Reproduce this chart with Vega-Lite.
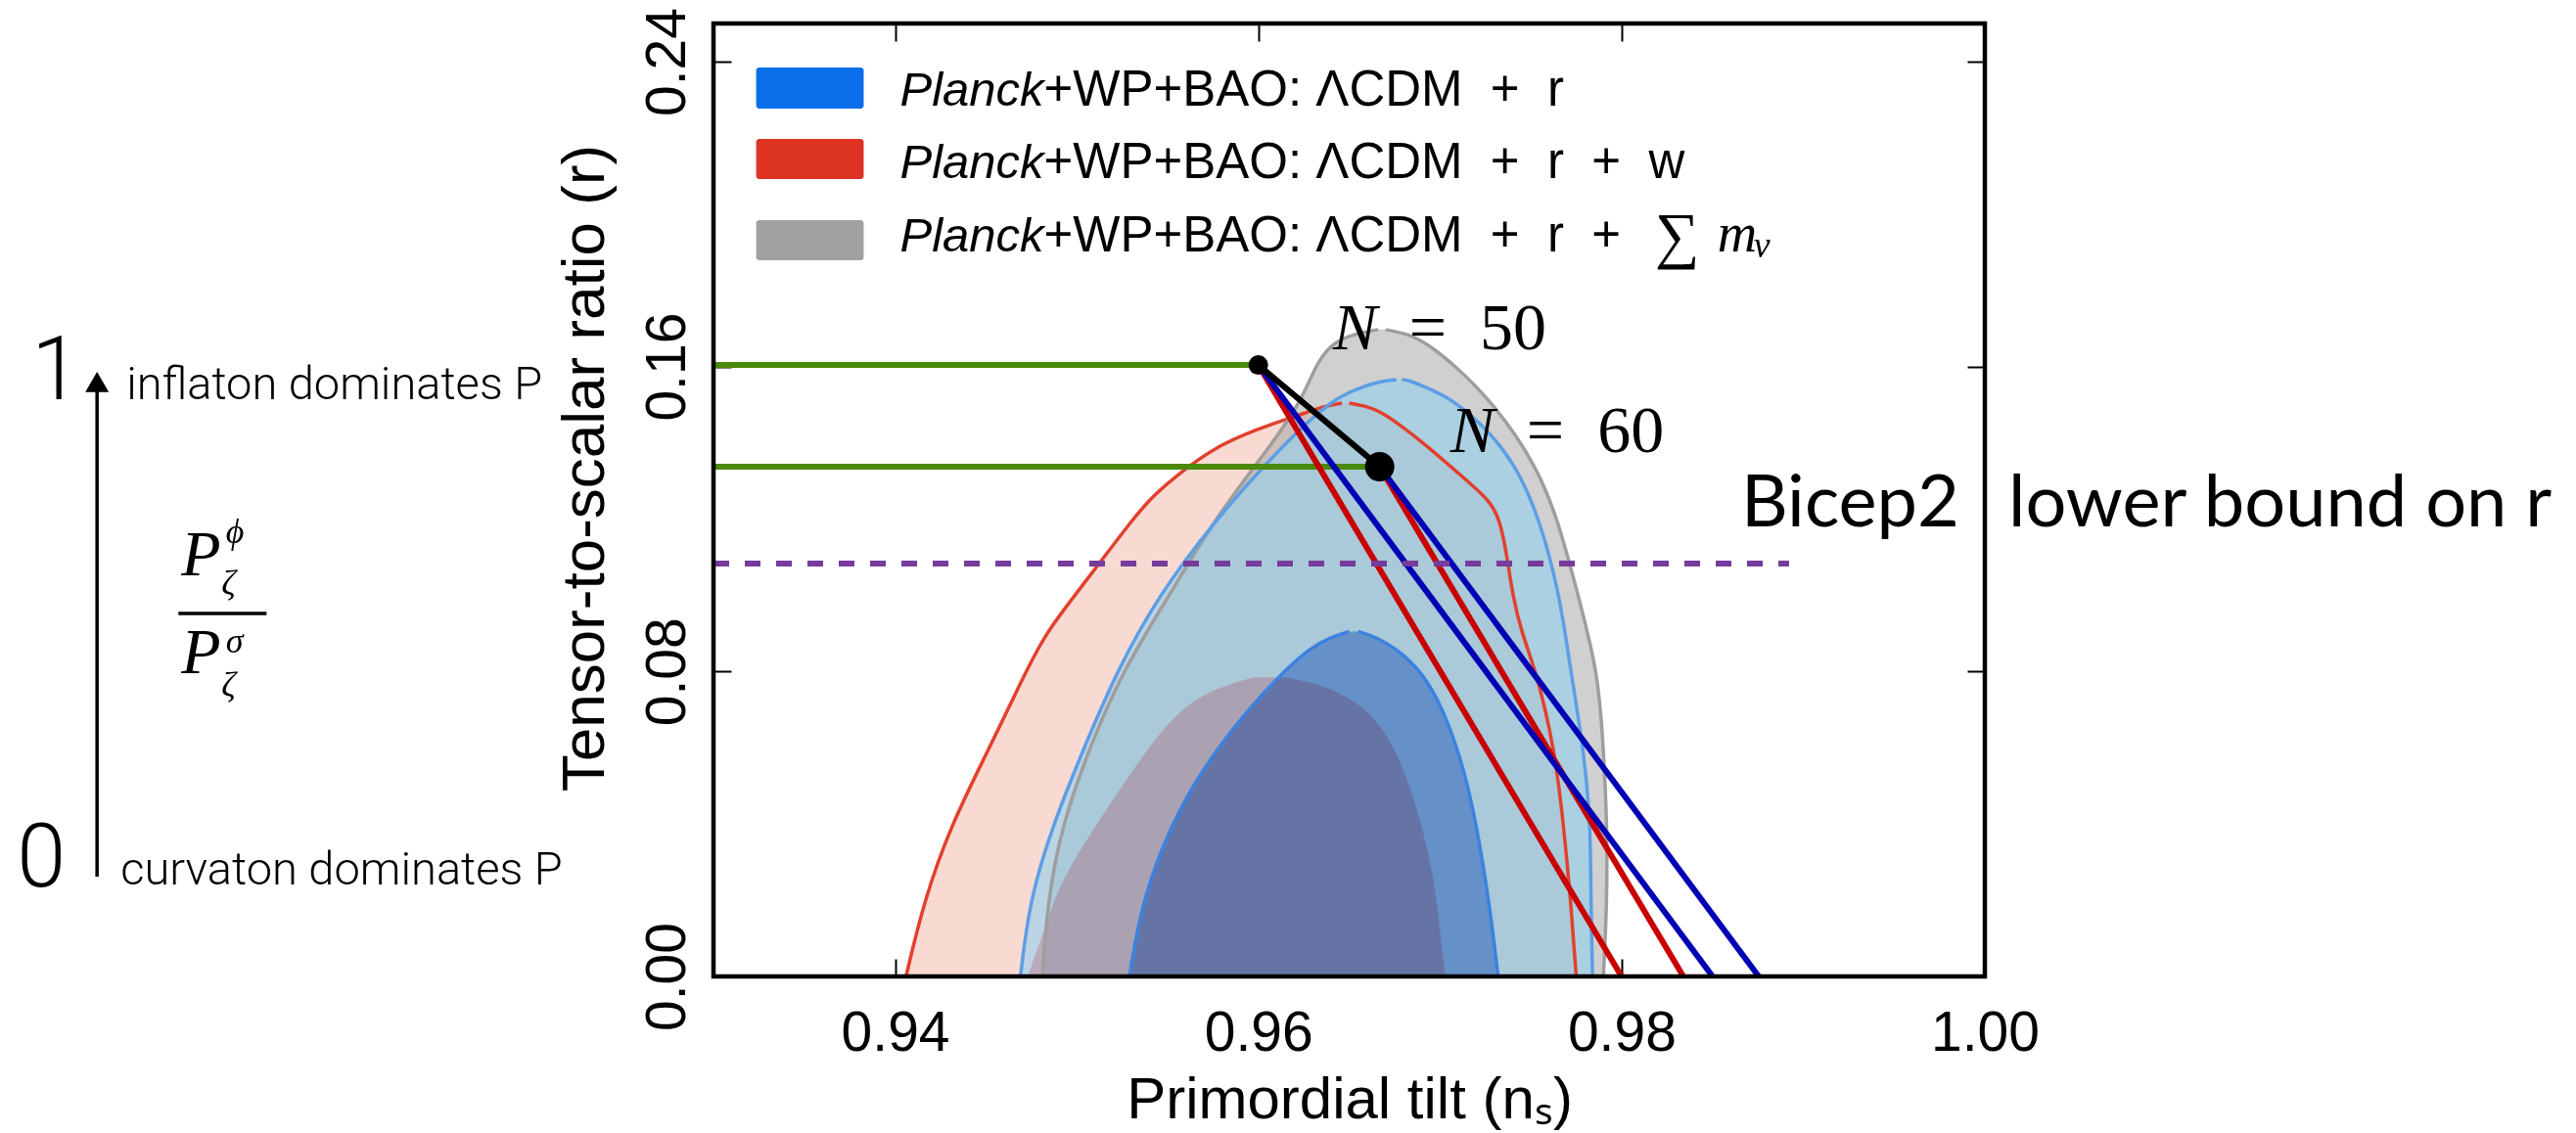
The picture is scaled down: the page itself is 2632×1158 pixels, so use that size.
{
  "$schema": "https://vega.github.io/schema/vega-lite/v6.json",
  "autosize": "none",
  "width": 1299,
  "height": 974,
  "padding": {"left": 729, "top": 24, "right": 604, "bottom": 160},
  "background": "white",
  "config": {
    "view": {"stroke": null},
    "axis": {
      "domain": false, "grid": false, "ticks": true, "tickColor": "black", "tickWidth": 2, "tickSize": -18,
      "labelColor": "black", "titleColor": "black", "labelFont": "Liberation Sans", "titleFont": "Liberation Sans",
      "titleFontWeight": "normal", "labelOverlap": false, "zindex": 1
    }
  },
  "resolve": {"axis": {"x": "independent", "y": "independent"}, "scale": {"color": "independent"}},
  "datasets": {
    "contours": [
      {"c": "red95", "y": 0, "xl": 0.9406, "xr": 0.9775},
      {"c": "red95", "y": 0.02, "xl": 0.9416, "xr": 0.9772},
      {"c": "red95", "y": 0.04, "xl": 0.9431, "xr": 0.9768},
      {"c": "red95", "y": 0.06, "xl": 0.9452, "xr": 0.9763},
      {"c": "red95", "y": 0.08, "xl": 0.9472, "xr": 0.9753},
      {"c": "red95", "y": 0.09, "xl": 0.9483, "xr": 0.9745},
      {"c": "red95", "y": 0.10, "xl": 0.9499, "xr": 0.9740},
      {"c": "red95", "y": 0.11, "xl": 0.9515, "xr": 0.9737},
      {"c": "red95", "y": 0.12, "xl": 0.9531, "xr": 0.9733},
      {"c": "red95", "y": 0.125, "xl": 0.9540, "xr": 0.9727},
      {"c": "red95", "y": 0.13, "xl": 0.9551, "xr": 0.9715},
      {"c": "red95", "y": 0.14, "xl": 0.9579, "xr": 0.9691},
      {"c": "red95", "y": 0.145, "xl": 0.9608, "xr": 0.9677},
      {"c": "red95", "y": 0.148, "xl": 0.9627, "xr": 0.9668},
      {"c": "red95", "y": 0.1497, "xl": 0.9637, "xr": 0.9659},
      {"c": "red95", "y": 0.1504, "xl": 0.9646, "xr": 0.9650},
      {"c": "gray95", "y": 0, "xl": 0.9481, "xr": 0.9790},
      {"c": "gray95", "y": 0.02, "xl": 0.9484, "xr": 0.9792},
      {"c": "gray95", "y": 0.04, "xl": 0.9492, "xr": 0.9792},
      {"c": "gray95", "y": 0.06, "xl": 0.9507, "xr": 0.9790},
      {"c": "gray95", "y": 0.08, "xl": 0.9525, "xr": 0.9787},
      {"c": "gray95", "y": 0.10, "xl": 0.9551, "xr": 0.9776},
      {"c": "gray95", "y": 0.12, "xl": 0.9576, "xr": 0.9765},
      {"c": "gray95", "y": 0.135, "xl": 0.9600, "xr": 0.9752},
      {"c": "gray95", "y": 0.15, "xl": 0.9623, "xr": 0.9730},
      {"c": "gray95", "y": 0.16, "xl": 0.9631, "xr": 0.9709},
      {"c": "gray95", "y": 0.166, "xl": 0.9640, "xr": 0.9693},
      {"c": "gray95", "y": 0.1685, "xl": 0.9652, "xr": 0.9683},
      {"c": "gray95", "y": 0.1697, "xl": 0.9666, "xr": 0.9670},
      {"c": "blue95", "y": 0, "xl": 0.9469, "xr": 0.9784},
      {"c": "blue95", "y": 0.02, "xl": 0.9474, "xr": 0.9783},
      {"c": "blue95", "y": 0.04, "xl": 0.9487, "xr": 0.9783},
      {"c": "blue95", "y": 0.06, "xl": 0.9504, "xr": 0.9779},
      {"c": "blue95", "y": 0.08, "xl": 0.9522, "xr": 0.9772},
      {"c": "blue95", "y": 0.10, "xl": 0.9545, "xr": 0.9766},
      {"c": "blue95", "y": 0.12, "xl": 0.9577, "xr": 0.9755},
      {"c": "blue95", "y": 0.135, "xl": 0.9605, "xr": 0.9741},
      {"c": "blue95", "y": 0.145, "xl": 0.9626, "xr": 0.9723},
      {"c": "blue95", "y": 0.152, "xl": 0.9643, "xr": 0.9705},
      {"c": "blue95", "y": 0.155, "xl": 0.9659, "xr": 0.9690},
      {"c": "blue95", "y": 0.1562, "xl": 0.9668, "xr": 0.9684},
      {"c": "blue95", "y": 0.1566, "xl": 0.9676, "xr": 0.9679},
      {"c": "blue68", "y": 0, "xl": 0.9529, "xr": 0.9732},
      {"c": "blue68", "y": 0.02, "xl": 0.9536, "xr": 0.9727},
      {"c": "blue68", "y": 0.04, "xl": 0.9552, "xr": 0.9720},
      {"c": "blue68", "y": 0.055, "xl": 0.9570, "xr": 0.9713},
      {"c": "blue68", "y": 0.07, "xl": 0.9594, "xr": 0.9702},
      {"c": "blue68", "y": 0.08, "xl": 0.9614, "xr": 0.9690},
      {"c": "blue68", "y": 0.086, "xl": 0.9628, "xr": 0.9676},
      {"c": "blue68", "y": 0.089, "xl": 0.9640, "xr": 0.9665},
      {"c": "blue68", "y": 0.0905, "xl": 0.9650, "xr": 0.9655},
      {"c": "red68", "y": 0, "xl": 0.9473, "xr": 0.9703},
      {"c": "red68", "y": 0.012, "xl": 0.9482, "xr": 0.9700},
      {"c": "red68", "y": 0.025, "xl": 0.9491, "xr": 0.9697},
      {"c": "red68", "y": 0.04, "xl": 0.9511, "xr": 0.9690},
      {"c": "red68", "y": 0.055, "xl": 0.9532, "xr": 0.9680},
      {"c": "red68", "y": 0.066, "xl": 0.9549, "xr": 0.9668},
      {"c": "red68", "y": 0.073, "xl": 0.9565, "xr": 0.9652},
      {"c": "red68", "y": 0.077, "xl": 0.9585, "xr": 0.9632},
      {"c": "red68", "y": 0.0785, "xl": 0.9598, "xr": 0.9614}
    ],
    "segs": [
      {"k": "green", "x1": 0.93, "y1": 0.1604, "x2": 0.96, "y2": 0.1604},
      {"k": "green", "x1": 0.93, "y1": 0.1337, "x2": 0.96668, "y2": 0.1337},
      {"k": "red", "x1": 0.96, "y1": 0.1604, "x2": 0.98, "y2": 0},
      {"k": "red", "x1": 0.96668, "y1": 0.1337, "x2": 0.9834, "y2": 0},
      {"k": "blue", "x1": 0.96, "y1": 0.1604, "x2": 0.98501, "y2": 0},
      {"k": "blue", "x1": 0.96668, "y1": 0.1337, "x2": 0.98755, "y2": 0},
      {"k": "black", "x1": 0.96, "y1": 0.1604, "x2": 0.96668, "y2": 0.1337},
      {"k": "bicep", "x1": 0.93, "y1": 0.1083, "x2": 0.98922, "y2": 0.1083},
      {"k": "frac", "x1": 0.90054, "y1": 0.09523, "x2": 0.90539, "y2": 0.09523},
      {"k": "shaft", "x1": 0.89606, "y1": 0.02618, "x2": 0.89606, "y2": 0.1535}
    ],
    "pts": [
      {"n": "50", "x": 0.96, "y": 0.1604},
      {"n": "60", "x": 0.96668, "y": 0.1337},
      {"n": "arrow", "x": 0.89606, "y": 0.15596}
    ],
    "boxes": [
      {"k": "blue", "x1": 0.93235, "x2": 0.93827, "y1": 0.22767, "y2": 0.23845},
      {"k": "red", "x1": 0.93235, "x2": 0.93827, "y1": 0.20919, "y2": 0.21971},
      {"k": "gray", "x1": 0.93235, "x2": 0.93827, "y1": 0.18789, "y2": 0.19841}
    ],
    "frame": [{"x1": 0.93, "x2": 1.0, "y1": 0, "y2": 0.25}],
    "texts": [
      {"g": "nit", "t": "N", "x": 0.9641, "y": 0.1645},
      {"g": "nit", "t": "N", "x": 0.97057, "y": 0.1376},
      {"g": "nrest", "t": "=\u00a0\u00a050", "x": 0.9683, "y": 0.1645},
      {"g": "nrest", "t": "=\u00a0\u00a060", "x": 0.97477, "y": 0.1376},
      {"g": "bicepL", "t": "Bicep2", "x": 0.9986, "y": 0.1181},
      {"g": "bicepR", "t": "lower bound on r", "x": 1.00129, "y": 0.1181},
      {"g": "legIt", "t": "Planck", "x": 0.94819, "y": 0.22844},
      {"g": "legIt", "t": "Planck", "x": 0.94819, "y": 0.20945},
      {"g": "legIt", "t": "Planck", "x": 0.94819, "y": 0.1902},
      {"g": "legRest", "t": "+WP+BAO: ΛCDM\u00a0\u00a0+\u00a0\u00a0r", "x": 0.94819, "y": 0.22844},
      {"g": "legRest", "t": "+WP+BAO: ΛCDM\u00a0\u00a0+\u00a0\u00a0r\u00a0\u00a0+\u00a0\u00a0w", "x": 0.94819, "y": 0.20945},
      {"g": "legRest", "t": "+WP+BAO: ΛCDM\u00a0\u00a0+\u00a0\u00a0r\u00a0\u00a0+", "x": 0.94819, "y": 0.1902},
      {"g": "sum", "t": "∑", "x": 0.98183, "y": 0.18891},
      {"g": "mit", "t": "m", "x": 0.98528, "y": 0.1902},
      {"g": "nu", "t": "ν", "x": 0.98727, "y": 0.18866},
      {"g": "big", "t": "1", "x": 0.89245, "y": 0.15144},
      {"g": "big", "t": "0", "x": 0.89164, "y": 0.02361},
      {"g": "dom", "t": "inflaton dominates P", "x": 0.89768, "y": 0.15144},
      {"g": "dom", "t": "curvaton dominates P", "x": 0.89736, "y": 0.02413},
      {"g": "fracP", "t": "P", "x": 0.9007, "y": 0.10524},
      {"g": "fracP", "t": "P", "x": 0.9007, "y": 0.07957},
      {"g": "fracS", "t": "ϕ", "x": 0.90315, "y": 0.11371},
      {"g": "fracS", "t": "σ", "x": 0.90315, "y": 0.08496},
      {"g": "fracS", "t": "ζ", "x": 0.90291, "y": 0.1001},
      {"g": "fracS", "t": "ζ", "x": 0.90291, "y": 0.07341}
    ]
  },
  "layer": [
    {
      "data": {"name": "contours"},
      "transform": [{"filter": {"field": "c", "equal": "red95"}}],
      "mark": {"type": "area", "orient": "horizontal", "interpolate": "basis", "color": "#f8dad2", "opacity": 1},
      "encoding": {
        "x": {"field": "xl", "type": "quantitative", "scale": {"domain": [0.93, 1.0], "nice": false, "zero": false},
          "axis": {"orient": "bottom", "values": [0.94, 0.96, 0.98, 1.0], "format": ".2f", "title": "Primordial tilt (nₛ)",
            "labelFontSize": 57, "labelPadding": 93, "labelBaseline": "alphabetic", "labelFlush": false,
            "titleFontSize": 60, "titleBaseline": "alphabetic", "titleY": 144}},
        "x2": {"field": "xr"},
        "y": {"field": "y", "type": "quantitative", "scale": {"domain": [0, 0.25], "nice": false, "zero": false},
          "axis": {"orient": "left", "values": [0, 0.08, 0.16, 0.24], "format": ".2f", "labelAngle": -90,
            "labelAlign": "center", "labelBaseline": "alphabetic", "labelPadding": 48, "labelFontSize": 57,
            "title": "Tensor-to-scalar ratio (r)", "titleFontSize": 62, "titleAngle": -90, "titleAlign": "center",
            "titleBaseline": "alphabetic", "titleX": -113, "titleY": 454}}
      }
    },
    {
      "data": {"name": "contours"},
      "transform": [{"filter": {"field": "c", "equal": "gray95"}}],
      "mark": {"type": "area", "orient": "horizontal", "interpolate": "basis", "color": "#a1a1a1", "opacity": 0.5},
      "encoding": {
        "x": {"field": "xl", "type": "quantitative", "axis": null},
        "x2": {"field": "xr"},
        "y": {"field": "y", "type": "quantitative", "axis": null}
      }
    },
    {
      "data": {"name": "contours"},
      "transform": [{"filter": {"field": "c", "equal": "blue95"}}],
      "mark": {"type": "area", "orient": "horizontal", "interpolate": "basis", "color": "#92d0ee", "opacity": 0.6},
      "encoding": {
        "x": {"field": "xl", "type": "quantitative", "axis": null},
        "x2": {"field": "xr"},
        "y": {"field": "y", "type": "quantitative", "axis": null}
      }
    },
    {
      "data": {"name": "contours"},
      "transform": [{"filter": {"field": "c", "equal": "blue68"}}],
      "mark": {"type": "area", "orient": "horizontal", "interpolate": "basis", "color": "#4978c1", "opacity": 0.7},
      "encoding": {
        "x": {"field": "xl", "type": "quantitative", "axis": null},
        "x2": {"field": "xr"},
        "y": {"field": "y", "type": "quantitative", "axis": null}
      }
    },
    {
      "data": {"name": "contours"},
      "transform": [{"filter": {"field": "c", "equal": "red68"}}],
      "mark": {"type": "area", "orient": "horizontal", "interpolate": "basis", "color": "#ffcdd2", "opacity": 1, "blend": "multiply"},
      "encoding": {
        "x": {"field": "xl", "type": "quantitative", "axis": null},
        "x2": {"field": "xr"},
        "y": {"field": "y", "type": "quantitative", "axis": null}
      }
    },
    {
      "data": {"name": "contours"},
      "transform": [
        {"filter": {"field": "c", "oneOf": ["gray95", "blue95", "red95", "blue68"]}},
        {"fold": ["xl", "xr"], "as": ["side", "xv"]}
      ],
      "mark": {"type": "line", "orient": "horizontal", "interpolate": "basis", "strokeWidth": 3.5},
      "encoding": {
        "x": {"field": "xv", "type": "quantitative", "axis": null},
        "y": {"field": "y", "type": "quantitative", "axis": null},
        "color": {"field": "c", "type": "nominal", "legend": null,
          "scale": {"domain": ["gray95", "blue95", "red95", "blue68"], "range": ["#9e9e9e", "#5c9ee6", "#e2402d", "#3b82e0"]}},
        "detail": {"field": "side"}
      }
    },
    {
      "data": {"name": "segs"},
      "transform": [{"filter": {"field": "k", "oneOf": ["green", "red", "blue", "black"]}}],
      "mark": {"type": "rule", "strokeWidth": 6, "strokeCap": "butt"},
      "encoding": {
        "x": {"field": "x1", "type": "quantitative", "axis": null},
        "y": {"field": "y1", "type": "quantitative", "axis": null},
        "x2": {"field": "x2"},
        "y2": {"field": "y2"},
        "color": {"field": "k", "type": "nominal", "legend": null,
          "scale": {"domain": ["green", "red", "blue", "black"], "range": ["#4a8a0c", "#c80000", "#0000b4", "#000000"]}}
      }
    },
    {
      "data": {"name": "segs"},
      "transform": [{"filter": {"field": "k", "equal": "bicep"}}],
      "mark": {"type": "rule", "strokeWidth": 6, "strokeCap": "butt", "strokeDash": [16, 16], "color": "#763c9c"},
      "encoding": {
        "x": {"field": "x1", "type": "quantitative", "axis": null},
        "y": {"field": "y1", "type": "quantitative", "axis": null},
        "x2": {"field": "x2"},
        "y2": {"field": "y2"}
      }
    },
    {
      "data": {"name": "segs"},
      "transform": [{"filter": {"field": "k", "oneOf": ["frac", "shaft"]}}],
      "mark": {"type": "rule", "strokeWidth": 3.5, "color": "black"},
      "encoding": {
        "x": {"field": "x1", "type": "quantitative", "axis": null},
        "y": {"field": "y1", "type": "quantitative", "axis": null},
        "x2": {"field": "x2"},
        "y2": {"field": "y2"}
      }
    },
    {
      "data": {"name": "pts"},
      "transform": [{"filter": {"field": "n", "oneOf": ["50", "60"]}}],
      "mark": {"type": "point", "shape": "circle", "filled": true, "color": "black", "opacity": 1},
      "encoding": {
        "x": {"field": "x", "type": "quantitative",
          "axis": {"orient": "top", "values": [0.94, 0.96, 0.98, 1.0], "labels": false, "title": null}},
        "y": {"field": "y", "type": "quantitative",
          "axis": {"orient": "right", "values": [0.08, 0.16, 0.24], "labels": false, "title": null}},
        "size": {"field": "n", "type": "nominal", "legend": null, "scale": {"domain": ["50", "60"], "range": [400, 900]}}
      }
    },
    {
      "data": {"name": "pts"},
      "transform": [{"filter": {"field": "n", "equal": "arrow"}}],
      "mark": {"type": "point", "shape": "triangle-up", "filled": true, "color": "black", "opacity": 1, "size": 576},
      "encoding": {
        "x": {"field": "x", "type": "quantitative", "axis": null},
        "y": {"field": "y", "type": "quantitative", "axis": null}
      }
    },
    {
      "data": {"name": "boxes"},
      "mark": {"type": "rect", "cornerRadius": 3},
      "encoding": {
        "x": {"field": "x1", "type": "quantitative", "axis": null},
        "x2": {"field": "x2"},
        "y": {"field": "y1", "type": "quantitative", "axis": null},
        "y2": {"field": "y2"},
        "color": {"field": "k", "type": "nominal", "legend": null,
          "scale": {"domain": ["blue", "red", "gray"], "range": ["#0a6ee8", "#dd3322", "#a1a1a1"]}}
      }
    },
    {
      "data": {"name": "frame"},
      "mark": {"type": "rect", "filled": false, "color": "black", "strokeWidth": 4.5},
      "encoding": {
        "x": {"field": "x1", "type": "quantitative", "axis": null},
        "x2": {"field": "x2"},
        "y": {"field": "y1", "type": "quantitative", "axis": null},
        "y2": {"field": "y2"}
      }
    },
    {
      "data": {"name": "texts"},
      "transform": [{"filter": {"field": "g", "equal": "nit"}}],
      "mark": {"type": "text", "font": "Liberation Serif", "fontStyle": "italic", "fontSize": 68, "align": "left", "baseline": "alphabetic", "color": "black"},
      "encoding": {"x": {"field": "x", "type": "quantitative", "axis": null}, "y": {"field": "y", "type": "quantitative", "axis": null}, "text": {"field": "t"}}
    },
    {
      "data": {"name": "texts"},
      "transform": [{"filter": {"field": "g", "equal": "nrest"}}],
      "mark": {"type": "text", "font": "Liberation Serif", "fontSize": 68, "align": "left", "baseline": "alphabetic", "color": "black"},
      "encoding": {"x": {"field": "x", "type": "quantitative", "axis": null}, "y": {"field": "y", "type": "quantitative", "axis": null}, "text": {"field": "t"}}
    },
    {
      "data": {"name": "texts"},
      "transform": [{"filter": {"field": "g", "equal": "bicepL"}}],
      "mark": {"type": "text", "font": "Lato", "fontSize": 74, "align": "right", "baseline": "alphabetic", "color": "black"},
      "encoding": {"x": {"field": "x", "type": "quantitative", "axis": null}, "y": {"field": "y", "type": "quantitative", "axis": null}, "text": {"field": "t"}}
    },
    {
      "data": {"name": "texts"},
      "transform": [{"filter": {"field": "g", "equal": "bicepR"}}],
      "mark": {"type": "text", "font": "Lato", "fontSize": 74, "align": "left", "baseline": "alphabetic", "color": "black"},
      "encoding": {"x": {"field": "x", "type": "quantitative", "axis": null}, "y": {"field": "y", "type": "quantitative", "axis": null}, "text": {"field": "t"}}
    },
    {
      "data": {"name": "texts"},
      "transform": [{"filter": {"field": "g", "equal": "legIt"}}],
      "mark": {"type": "text", "font": "Liberation Sans", "fontStyle": "italic", "fontSize": 49, "align": "right", "baseline": "alphabetic", "color": "black"},
      "encoding": {"x": {"field": "x", "type": "quantitative", "axis": null}, "y": {"field": "y", "type": "quantitative", "axis": null}, "text": {"field": "t"}}
    },
    {
      "data": {"name": "texts"},
      "transform": [{"filter": {"field": "g", "equal": "legRest"}}],
      "mark": {"type": "text", "font": "Liberation Sans", "fontSize": 51, "align": "left", "baseline": "alphabetic", "color": "black"},
      "encoding": {"x": {"field": "x", "type": "quantitative", "axis": null}, "y": {"field": "y", "type": "quantitative", "axis": null}, "text": {"field": "t"}}
    },
    {
      "data": {"name": "texts"},
      "transform": [{"filter": {"field": "g", "equal": "sum"}}],
      "mark": {"type": "text", "font": "Liberation Serif", "fontSize": 64, "align": "left", "baseline": "alphabetic", "color": "black"},
      "encoding": {"x": {"field": "x", "type": "quantitative", "axis": null}, "y": {"field": "y", "type": "quantitative", "axis": null}, "text": {"field": "t"}}
    },
    {
      "data": {"name": "texts"},
      "transform": [{"filter": {"field": "g", "equal": "mit"}}],
      "mark": {"type": "text", "font": "Liberation Serif", "fontStyle": "italic", "fontSize": 56, "align": "left", "baseline": "alphabetic", "color": "black"},
      "encoding": {"x": {"field": "x", "type": "quantitative", "axis": null}, "y": {"field": "y", "type": "quantitative", "axis": null}, "text": {"field": "t"}}
    },
    {
      "data": {"name": "texts"},
      "transform": [{"filter": {"field": "g", "equal": "nu"}}],
      "mark": {"type": "text", "font": "Liberation Serif", "fontStyle": "italic", "fontSize": 38, "align": "left", "baseline": "alphabetic", "color": "black"},
      "encoding": {"x": {"field": "x", "type": "quantitative", "axis": null}, "y": {"field": "y", "type": "quantitative", "axis": null}, "text": {"field": "t"}}
    },
    {
      "data": {"name": "texts"},
      "transform": [{"filter": {"field": "g", "equal": "big"}}],
      "mark": {"type": "text", "font": "Roboto", "fontWeight": 300, "fontSize": 90, "align": "left", "baseline": "alphabetic", "color": "black"},
      "encoding": {"x": {"field": "x", "type": "quantitative", "axis": null}, "y": {"field": "y", "type": "quantitative", "axis": null}, "text": {"field": "t"}}
    },
    {
      "data": {"name": "texts"},
      "transform": [{"filter": {"field": "g", "equal": "dom"}}],
      "mark": {"type": "text", "font": "Roboto", "fontWeight": 300, "fontSize": 47, "align": "left", "baseline": "alphabetic", "color": "black"},
      "encoding": {"x": {"field": "x", "type": "quantitative", "axis": null}, "y": {"field": "y", "type": "quantitative", "axis": null}, "text": {"field": "t"}}
    },
    {
      "data": {"name": "texts"},
      "transform": [{"filter": {"field": "g", "equal": "fracP"}}],
      "mark": {"type": "text", "font": "Liberation Serif", "fontStyle": "italic", "fontSize": 66, "align": "left", "baseline": "alphabetic", "color": "black"},
      "encoding": {"x": {"field": "x", "type": "quantitative", "axis": null}, "y": {"field": "y", "type": "quantitative", "axis": null}, "text": {"field": "t"}}
    },
    {
      "data": {"name": "texts"},
      "transform": [{"filter": {"field": "g", "equal": "fracS"}}],
      "mark": {"type": "text", "font": "Liberation Serif", "fontStyle": "italic", "fontSize": 36, "align": "left", "baseline": "alphabetic", "color": "black"},
      "encoding": {"x": {"field": "x", "type": "quantitative", "axis": null}, "y": {"field": "y", "type": "quantitative", "axis": null}, "text": {"field": "t"}}
    }
  ]
}
